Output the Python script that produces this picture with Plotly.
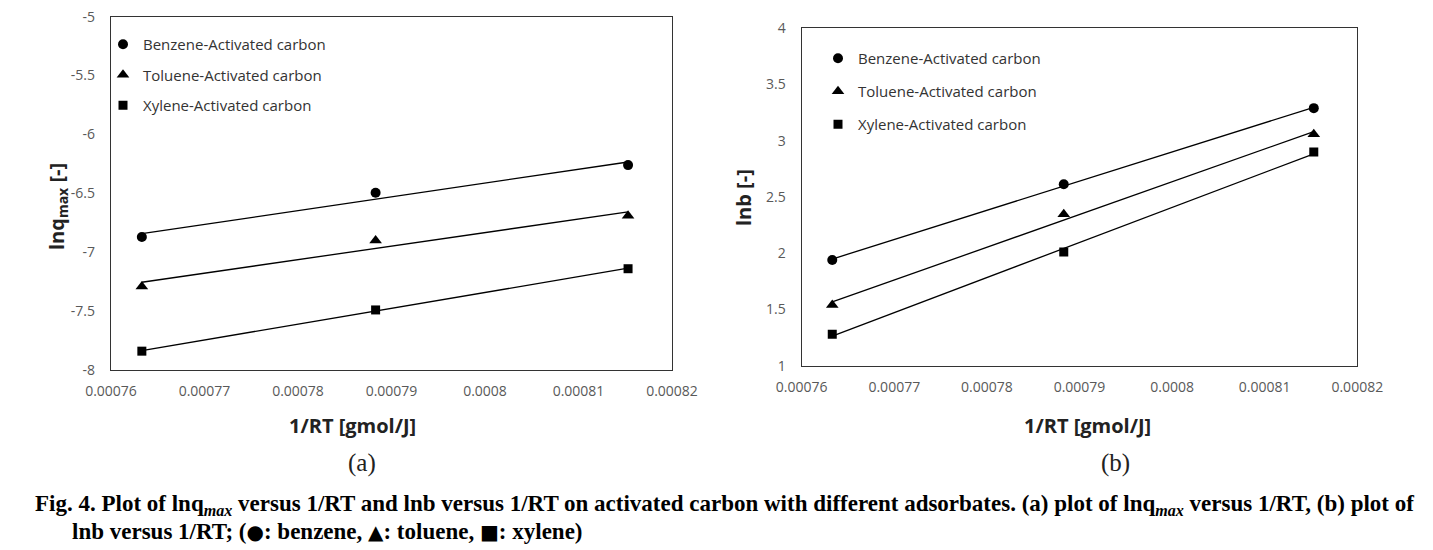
import numpy as np
import plotly.graph_objects as go

# ---------------- data ----------------
inv_rt = [0.0007633, 0.0007883, 0.0008153]

series_names = ["Benzene-Activated carbon", "Toluene-Activated carbon", "Xylene-Activated carbon"]

lnqmax_benzene = [-6.87, -6.495, -6.26]
lnqmax_toluene = [-7.29, -6.90, -6.69]
lnqmax_xylene = [-7.84, -7.49, -7.14]

lnb_benzene = [1.94, 2.613, 3.29]
lnb_toluene = [1.54, 2.346, 3.057]
lnb_xylene = [1.28, 2.01, 2.90]

x_tickvals = [0.00076, 0.00077, 0.00078, 0.00079, 0.0008, 0.00081, 0.00082]
x_ticktext = ["0.00076", "0.00077", "0.00078", "0.00079", "0.0008", "0.00081", "0.00082"]
ya_tickvals = [-8, -7.5, -7, -6.5, -6, -5.5, -5]
ya_ticktext = ["-8", "-7.5", "-7", "-6.5", "-6", "-5.5", "-5"]
yb_tickvals = [1, 1.5, 2, 2.5, 3, 3.5, 4]
yb_ticktext = ["1", "1.5", "2", "2.5", "3", "3.5", "4"]

# ---------------- style ----------------
symbols = ["circle", "triangle-up", "square"]
marker_sizes = [10, 11, 9]

OFF = 8  # page body margin
W, H = 1433 - OFF, 550 - OFF
FONT = "Open Sans"

def px(x):
    return (x - OFF) / W

def py(y):
    return 1 - (y - OFF) / H

fig = go.Figure()

def add_panel(ys, xa, ya, legend):
    for name, sym, ms, y in zip(series_names, symbols, marker_sizes, ys):
        k, b = np.polyfit(inv_rt, y, 1)
        xl = np.array([min(inv_rt), max(inv_rt)])
        fig.add_trace(go.Scatter(x=xl, y=k * xl + b, mode="lines",
                                 line=dict(color="black", width=1.3),
                                 xaxis=xa, yaxis=ya, showlegend=False, hoverinfo="skip"))
        fig.add_trace(go.Scatter(x=inv_rt, y=y, mode="markers", name=name,
                                 marker=dict(symbol=sym, color="black", size=ms),
                                 xaxis=xa, yaxis=ya, legend=legend, legendgroup=legend + name))

add_panel([lnqmax_benzene, lnqmax_toluene, lnqmax_xylene], "x", "y", "legend")
add_panel([lnb_benzene, lnb_toluene, lnb_xylene], "x2", "y2", "legend2")

tickfont = dict(family=FONT, size=14, color="#595959")
axis_common = dict(showgrid=False, zeroline=False, showline=True, mirror=True, automargin=False,
                   linecolor="#333333", linewidth=1.3, ticks="", tickfont=tickfont,
                   ticklabeloverflow="allow")

fig.update_layout(
    width=W, height=H, margin=dict(l=0, r=0, t=0, b=0, autoexpand=False),
    paper_bgcolor="white", plot_bgcolor="white",
    xaxis=dict(domain=[px(111), px(672)], range=[0.00076, 0.00082],
               tickvals=x_tickvals, ticktext=x_ticktext, ticklabelstandoff=8, **axis_common),
    yaxis=dict(domain=[py(370), py(16.7)], range=[-8, -5],
               tickvals=ya_tickvals, ticktext=ya_ticktext, ticklabelstandoff=12, **axis_common),
    xaxis2=dict(domain=[px(801.7), px(1357.3)], range=[0.00076, 0.00082], anchor="y2",
                tickvals=x_tickvals, ticktext=x_ticktext, ticklabelstandoff=8, **axis_common),
    yaxis2=dict(domain=[py(365.7), py(28.3)], range=[1, 4], anchor="x2",
                tickvals=yb_tickvals, ticktext=yb_ticktext, ticklabelstandoff=12, **axis_common),
    legend=dict(x=px(103), y=py(28), xanchor="left", yanchor="top",
                bgcolor="rgba(0,0,0,0)", tracegroupgap=8,
                font=dict(family=FONT, size=15, color="#333333")),
    legend2=dict(x=px(818), y=py(42), xanchor="left", yanchor="top",
                 bgcolor="rgba(0,0,0,0)", tracegroupgap=10.5,
                 font=dict(family=FONT, size=15, color="#333333")),
)

ann = []
title_font = dict(family=FONT, size=20, color="#222222")
def add_text(text, x, y, font, **kw):
    ann.append(dict(text=text, x=px(x), y=py(y), xref="paper", yref="paper",
                    showarrow=False, font=font, yanchor="middle", **kw))

add_text("<b>1/RT [gmol/J]</b>", 352, 425, title_font, xanchor="center")
add_text("<b>1/RT [gmol/J]</b>", 1087, 425, title_font, xanchor="center")
add_text("<b>lnq<sub>max</sub> [-]</b>", 57, 207, title_font, xanchor="center", textangle=-90)
add_text("<b>lnb [-]</b>", 743, 198, title_font, xanchor="center", textangle=-90)
panel_font = dict(family="Liberation Serif", size=25, color="#222222")
add_text("(a)", 362, 463, panel_font, xanchor="center")
add_text("(b)", 1115, 463, panel_font, xanchor="center")
cap_font = dict(family="Liberation Serif", size=23, color="black")
add_text("<b>Fig. 4. Plot of lnq<sub><i>max</i></sub> versus 1/RT and lnb versus 1/RT on activated carbon "
         "with different adsorbates. (a) plot of lnq<sub><i>max</i></sub> versus 1/RT, (b) plot of</b>",
         33, 505, cap_font, xanchor="left")
big = '<span style="font-family:DejaVu Sans;font-size:20px">'
add_text("<b>lnb versus 1/RT; (" + big + "●</span>: benzene, " + big + "▲</span>: toluene, "
         + big + "■</span>: xylene)</b>", 70, 531, cap_font, xanchor="left")
fig.update_layout(annotations=ann)

fig.write_html("out.html")
